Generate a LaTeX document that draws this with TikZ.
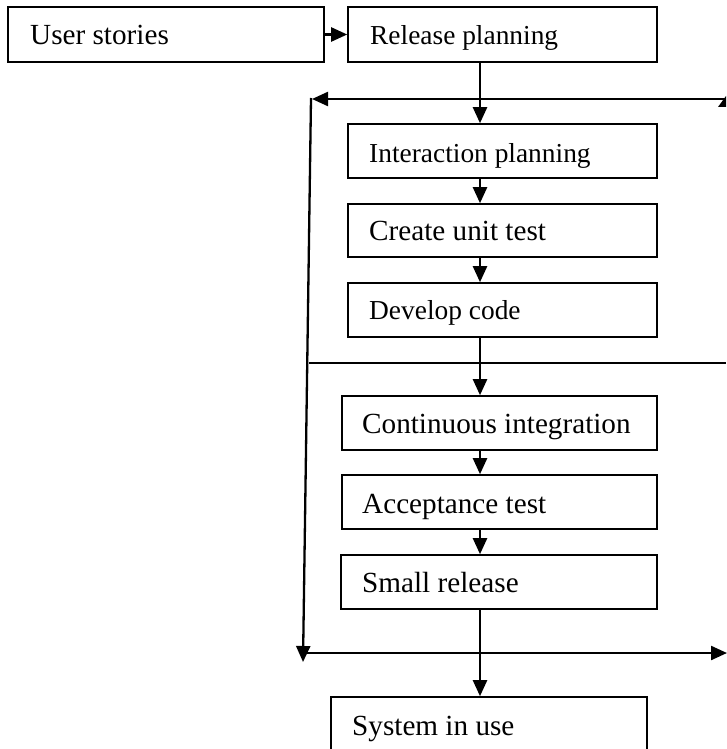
\documentclass[tikz,border=0pt]{standalone}
\usepackage{fontspec}
\setmainfont{Liberation Serif}
\usetikzlibrary{arrows.meta}
\begin{document}
\begin{tikzpicture}[x=1pt,y=-1pt,
  box/.style={draw, line width=1.6pt, inner sep=0pt, rectangle},
  lbl/.style={anchor=base west, inner sep=0pt, font=\fontsize{29.2}{34}\selectfont},
  lblsm/.style={anchor=base west, inner sep=0pt, font=\fontsize{27.4}{32}\selectfont},
  conn/.style={line width=2.3pt, -{Triangle[length=16pt,width=14pt]}},
  rule/.style={line width=1.6pt}]
\useasboundingbox (0,0) rectangle (726,749);

% process boxes
\node[box, minimum width=316pt, minimum height=55pt] (us)  at (166,34.5) {};
\node[box, minimum width=309pt, minimum height=55pt] (rp)  at (502.5,34.5) {};
\node[box, minimum width=309pt, minimum height=54pt] (ip)  at (502.5,151) {};
\node[box, minimum width=309pt, minimum height=53pt] (cut) at (502.5,230.5) {};
\node[box, minimum width=309pt, minimum height=54pt] (dc)  at (502.5,310) {};
\node[box, minimum width=315pt, minimum height=54pt] (ci)  at (499.5,423) {};
\node[box, minimum width=315pt, minimum height=54pt] (at)  at (499.5,502) {};
\node[box, minimum width=316pt, minimum height=54pt] (sr)  at (499,582) {};
\node[box, minimum width=316pt, minimum height=56pt] (siu) at (489,725) {};

% box texts
\node[lbl]   (tus)  at (30,45)   {User stories};
\node[lblsm] (trp)  at (370,45)  {Release planning};
\node[lblsm] (tip)  at (369,162) {Interaction planning};
\node[lbl]   (tcut) at (369,240) {Create unit test};
\node[lblsm] (tdc)  at (369,319) {Develop code};
\node[lbl]   (tci)  at (362,433) {Continuous integration};
\node[lbl]   (tat)  at (362,513) {Acceptance test};
\node[lbl]   (tsr)  at (362,592) {Small release};
\node[lbl]   (tsiu) at (352,735) {System in use};

% main flow
\coordinate (ax) at (480,0);
\draw[conn] (us.east) -- (rp.west);
\draw[conn] (rp.south -| ax) -- (ip.north -| ax);
\draw[conn] (ip.south -| ax) -- (cut.north -| ax);
\draw[conn] (cut.south -| ax) -- (dc.north -| ax);
\draw[conn] (dc.south -| ax) -- (ci.north -| ax);
\draw[conn] (ci.south -| ax) -- (at.north -| ax);
\draw[conn] (at.south -| ax) -- (sr.north -| ax);
\draw[conn] (sr.south -| ax) -- (siu.north -| ax);

% iteration loop
\coordinate (tr) at (726,99);
\coordinate (tl) at (312,99);
\coordinate (lt) at (311,98);
\coordinate (lb) at (303,662);
\coordinate (bl) at (305,653);
\coordinate (br) at (727,653);
\coordinate (ml) at (309,363);
\coordinate (mr) at (726,363);
\draw[conn] (tr) -- (tl);
\draw[conn] (lt) -- (lb);
\draw[conn] (bl) -- (br);
\draw[rule] (ml) -- (mr);
\fill (718,107) -- (726,107) -- (726,96) -- cycle;
\end{tikzpicture}
\end{document}
